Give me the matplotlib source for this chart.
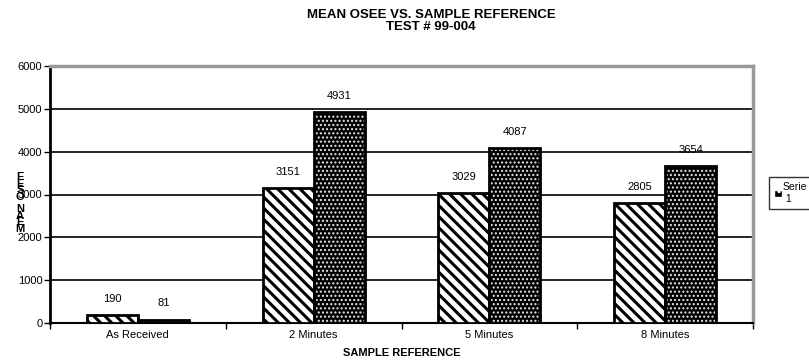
import numpy as np
import matplotlib.pyplot as plt
from matplotlib.patches import Rectangle

# OSEE means per sample reference, two readings per group
categories = ['As Received', '2 Minutes', '5 Minutes', '8 Minutes']
first_vals = [190, 3151, 3029, 2805]
second_vals = [81, 4931, 4087, 3654]
y_ticks = [0, 1000, 2000, 3000, 4000, 5000, 6000]

plt.rcParams['font.family'] = ['Liberation Sans', 'DejaVu Sans']

fig = plt.figure(figsize=(8.09, 3.6), dpi=100)
ax = fig.add_axes([50 / 809, 37 / 360, 703 / 809, 257 / 360])

x = np.arange(len(categories))
w = 0.29

# striped bars
with plt.rc_context({'hatch.linewidth': 2.2}):
    ax.bar(x - w / 2, first_vals, w, color='white', edgecolor='black',
           hatch='\\\\\\', linewidth=0, zorder=3)
ax.bar(x - w / 2, first_vals, w, fill=False, edgecolor='black', linewidth=2, zorder=4)

# dotted bars: black face with small white dots
with plt.rc_context({'hatch.linewidth': 1.0}):
    ax.bar(x + w / 2, second_vals, w, facecolor='black', edgecolor='#e8e8e8',
           hatch='....', linewidth=0, zorder=3)
ax.bar(x + w / 2, second_vals, w, fill=False, edgecolor='black', linewidth=2, zorder=4)

for xs, vals in ((x - w / 2, first_vals), (x + w / 2, second_vals)):
    for xi, v in zip(xs, vals):
        ax.annotate(str(v), (xi, v), xytext=(0, 8), textcoords='offset points',
                    ha='center', va='bottom', fontsize=8)

ax.set_xlim(-0.5, len(categories) - 0.5)
ax.set_ylim(0, 6000)
ax.set_yticks(y_ticks)
ax.set_xticks(x)
ax.set_xticklabels(categories, fontsize=8)
ax.set_xticks(np.arange(len(categories) + 1) - 0.5, minor=True)
ax.tick_params(axis='x', which='major', length=0, pad=5)
ax.tick_params(axis='x', which='minor', length=4, width=1, direction='out')
ax.tick_params(axis='y', labelsize=8, length=4, width=1, direction='out', pad=1.5)

ax.grid(axis='y', color='black', linewidth=1.2, zorder=1)
ax.set_axisbelow(True)

for side in ('top', 'right'):
    ax.spines[side].set_color('#999999')
    ax.spines[side].set_linewidth(2.5)
ax.spines['left'].set_linewidth(2)
ax.spines['bottom'].set_linewidth(1.5)

ax.set_xlabel('SAMPLE REFERENCE', fontsize=8, fontweight='bold', labelpad=6)

fig.text(431 / 809, 0.975, 'MEAN OSEE VS. SAMPLE REFERENCE\nTEST # 99-004',
         ha='center', va='top', fontsize=9.5, fontweight='bold', linespacing=0.95)

# stacked y label
fig.text(20 / 809, 1 - 203 / 360, '\n'.join('MEAN OSEE'[::-1]),
         ha='center', va='center', fontsize=8, fontweight='bold', linespacing=0.55)

handle = Rectangle((0, 0), 1, 1, facecolor='black', edgecolor='white', hatch='..')
leg = fig.legend([handle], ['Serie\n 1'], loc='upper left',
                 bbox_to_anchor=(769 / 809, 1 - 177 / 360), fontsize=7.5,
                 frameon=True, fancybox=False, edgecolor='black',
                 handlelength=0.7, handleheight=0.7, handletextpad=0.1,
                 borderpad=0.5, borderaxespad=0)
leg.get_frame().set_linewidth(1)

fig.savefig('out.png', dpi=100)
